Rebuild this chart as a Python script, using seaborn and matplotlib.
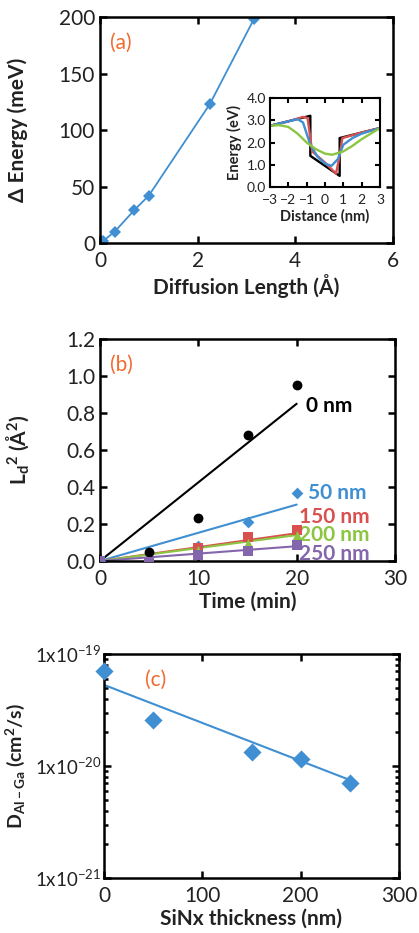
import numpy as np
import pandas as pd
import matplotlib
matplotlib.use("Agg")
import matplotlib.pyplot as plt
import seaborn as sns
from matplotlib.ticker import FixedLocator, FixedFormatter, LogLocator, NullFormatter

# ---------------- data ----------------
# (a) main
diff_len = [0.07, 0.30, 0.70, 1.00, 2.25, 3.15]
delta_e = [2, 10, 29, 42, 123, 198]

# (a) inset band profiles
blk_x = [-3, -0.8, -0.8, 0.8, 0.8, 3]
blk_y = [2.75, 3.2, 1.4, 0.5, 2.2, 2.65]
red_x = [-3, -2, -1.2, -0.95, -0.7, 0, 0.6, 0.75, 0.95, 2, 3]
red_y = [2.75, 2.95, 3.15, 3.1, 1.6, 1.1, 0.6, 1.2, 2.2, 2.45, 2.65]
blu_x = [-3, -2, -1.5, -1.2, -0.8, -0.4, 0, 0.35, 0.7, 1.0, 1.5, 2, 3]
blu_y = [2.75, 2.95, 3.05, 2.9, 1.9, 1.35, 1.05, 0.95, 1.25, 1.9, 2.2, 2.4, 2.65]
grn_x = [-3, -2.5, -2, -1.5, -1, -0.5, 0, 0.4, 1, 1.5, 2, 2.5, 3]
grn_y = [2.75, 2.78, 2.7, 2.4, 2.0, 1.7, 1.5, 1.45, 1.6, 1.85, 2.15, 2.4, 2.65]

# (b)
t_0 = [0, 5, 10, 15, 20]
ld2_0 = [0.0, 0.05, 0.23, 0.68, 0.95]
t_50 = [0, 10, 15, 20]
ld2_50 = [0.0, 0.08, 0.21, 0.365]
t_150 = [0, 10, 15, 20]
ld2_150 = [0.0, 0.07, 0.13, 0.167]
t_200 = [0, 10, 15, 20]
ld2_200 = [0.0, 0.06, 0.10, 0.14]
t_250 = [0, 5, 10, 15, 20]
ld2_250 = [0.0, -0.005, 0.03, 0.055, 0.085]
fit_t = [0, 20]
fit_0 = [0.0, 0.85]
fit_50 = [0.0, 0.305]
fit_150 = [0.0, 0.15]
fit_200 = [0.0, 0.14]
fit_250 = [0.0, 0.08]
series_labels = ["0 nm", "50 nm", "150 nm", "200 nm", "250 nm"]

# (c)
sinx = [0, 50, 150, 200, 250]
d_alga = [7.1e-20, 2.57e-20, 1.33e-20, 1.15e-20, 7.1e-21]
fit_sinx = [0, 250]
fit_d = [5.3e-20, 7.5e-21]

# ---------------- style ----------------
sns.set_style("ticks")
plt.rcParams["font.family"] = ["Lato", "DejaVu Sans"]
plt.rcParams["mathtext.fontset"] = "custom"
plt.rcParams["mathtext.rm"] = "Lato"
plt.rcParams["mathtext.it"] = "Lato:italic"
plt.rcParams["mathtext.bf"] = "Lato:bold"

BLUE = "#3f8fd2"
RED = "#d9514e"
GREEN = "#8cc540"
PURPLE = "#8466ac"
ORANGE = "#f26a2e"
TXT = "#222222"

TICK_FS = 15
LAB_FS = 15

W, H = 419, 933
fig = plt.figure(figsize=(W / 100, H / 100), dpi=100)


def box(l, t, r, b):
    return [l / W, 1 - b / H, (r - l) / W, (b - t) / H]


def style_ax(ax, fs=TICK_FS, lw=1.8):
    for s in ax.spines.values():
        s.set_visible(True)
        s.set_linewidth(lw)
        s.set_color("black")
    ax.tick_params(which="both", direction="in", top=True, right=True,
                   labelsize=fs, colors="black", labelcolor=TXT, width=lw)
    ax.tick_params(which="major", length=5)
    ax.tick_params(axis="x", pad=6)


# ---------------- (a) ----------------
axa = fig.add_axes(box(100, 17, 393, 243))
sns.lineplot(x=diff_len, y=delta_e, ax=axa, color=BLUE, lw=1.3, estimator=None,
             marker="D", markersize=6.5, markeredgewidth=0, sort=False)
axa.set_xlim(0, 6)
axa.set_ylim(0, 200)
axa.set_xticks([0, 2, 4, 6])
axa.set_yticks([0, 50, 100, 150, 200])
style_ax(axa)
axa.set_xlabel("Diffusion Length (Å)", fontsize=LAB_FS, fontweight="bold", color=TXT, labelpad=2)
axa.set_ylabel("Δ Energy (meV)", fontsize=LAB_FS, fontweight="bold", color=TXT)
axa.yaxis.set_label_coords(-0.245, 0.5)
axa.text(0.035, 0.93, "(a)", transform=axa.transAxes, color=ORANGE, fontsize=15, va="top")

axi = fig.add_axes(box(270, 98, 380, 187))
for xs, ys, c in [(blk_x, blk_y, "black"), (red_x, red_y, RED),
                  (blu_x, blu_y, BLUE), (grn_x, grn_y, GREEN)]:
    sns.lineplot(x=xs, y=ys, ax=axi, color=c, lw=1.7, sort=False, estimator=None)
axi.set_xlim(-3, 3)
axi.set_ylim(0, 4)
axi.set_xticks([-3, -2, -1, 0, 1, 2, 3])
axi.set_yticks([0, 1, 2, 3, 4])
axi.set_yticklabels(["0.0", "1.0", "2.0", "3.0", "4.0"])
style_ax(axi, fs=10, lw=1.5)
axi.tick_params(which="major", length=3.5, pad=3)
axi.tick_params(axis="x", pad=5)
axi.set_xlabel("Distance (nm)", fontsize=10.5, fontweight="bold", color=TXT, labelpad=2)
axi.set_ylabel("Energy (eV)", fontsize=10.5, fontweight="bold", color=TXT, labelpad=3)

# ---------------- (b) ----------------
axb = fig.add_axes(box(100, 339, 395, 561))
fits = [(fit_0, "black"), (fit_50, BLUE), (fit_150, RED), (fit_200, GREEN), (fit_250, PURPLE)]
for fy, c in fits:
    sns.lineplot(x=fit_t, y=fy, ax=axb, color=c, lw=1.5, estimator=None)
sns.scatterplot(x=t_0, y=ld2_0, ax=axb, color="black", marker="o", s=50, linewidth=0, zorder=5)
sns.scatterplot(x=t_50, y=ld2_50, ax=axb, color=BLUE, marker="D", s=36, linewidth=0, zorder=5)
sns.scatterplot(x=t_150, y=ld2_150, ax=axb, color=RED, marker="s", s=60, linewidth=0, zorder=5)
sns.scatterplot(x=t_200, y=ld2_200, ax=axb, color=GREEN, marker="^", s=45, linewidth=0, zorder=5)
sns.scatterplot(x=t_250, y=ld2_250, ax=axb, color=PURPLE, marker="s", s=60, linewidth=0, zorder=5)
axb.set_xlim(0, 30)
axb.set_ylim(0, 1.2)
axb.set_xticks([0, 10, 20, 30])
axb.set_yticks(np.arange(0, 1.21, 0.2))
axb.set_yticklabels([f"{v:.1f}" for v in np.arange(0, 1.21, 0.2)])
style_ax(axb)
axb.set_xlabel("Time (min)", fontsize=LAB_FS, fontweight="bold", color=TXT, labelpad=2)
axb.set_ylabel(r"L$_\mathbf{d}$$^\mathbf{2}$ (Å$^\mathbf{2}$)", fontsize=LAB_FS, fontweight="bold",
               color=TXT)
axb.yaxis.set_label_coords(-0.235, 0.5)
axb.text(0.035, 0.93, "(b)", transform=axb.transAxes, color=ORANGE, fontsize=15, va="top")
lab_pos = [(21.0, 0.84, "black"), (21.2, 0.37, BLUE), (20.2, 0.24, RED),
           (20.2, 0.14, GREEN), (20.2, 0.04, PURPLE)]
for (lx, ly, c), s in zip(lab_pos, series_labels):
    axb.text(lx, ly, s, color=c, fontsize=15, fontweight="bold", va="center", ha="left")

# ---------------- (c) ----------------
axc = fig.add_axes(box(104, 654, 399, 878))
sns.lineplot(x=fit_sinx, y=fit_d, ax=axc, color=BLUE, lw=1.5, estimator=None)
sns.scatterplot(x=sinx, y=d_alga, ax=axc, color=BLUE, marker="D", s=85, linewidth=0,
                zorder=5, clip_on=False)
axc.set_yscale("log")
axc.set_xlim(0, 300)
axc.set_ylim(1e-21, 1e-19)
axc.set_xticks([0, 100, 200, 300])
axc.yaxis.set_major_locator(FixedLocator([1e-21, 1e-20, 1e-19]))
axc.yaxis.set_major_formatter(FixedFormatter([r"1x10$^{-21}$", r"1x10$^{-20}$", r"1x10$^{-19}$"]))
axc.yaxis.set_minor_locator(LogLocator(base=10, subs=np.arange(2, 10)))
axc.yaxis.set_minor_formatter(NullFormatter())
style_ax(axc)
axc.tick_params(axis="y", labelsize=13.5, pad=2)
axc.tick_params(which="minor", length=3)
axc.set_xlabel("SiNx thickness (nm)", fontsize=LAB_FS, fontweight="bold", color=TXT, labelpad=2)
axc.set_ylabel(r"D$_\mathbf{Al-Ga}$ (cm$^\mathbf{2}$/s)", fontsize=14, fontweight="bold",
               color=TXT)
axc.yaxis.set_label_coords(-0.262, 0.5)
axc.text(0.14, 0.93, "(c)", transform=axc.transAxes, color=ORANGE, fontsize=15, va="top")

fig.savefig("out.png", dpi=100)
